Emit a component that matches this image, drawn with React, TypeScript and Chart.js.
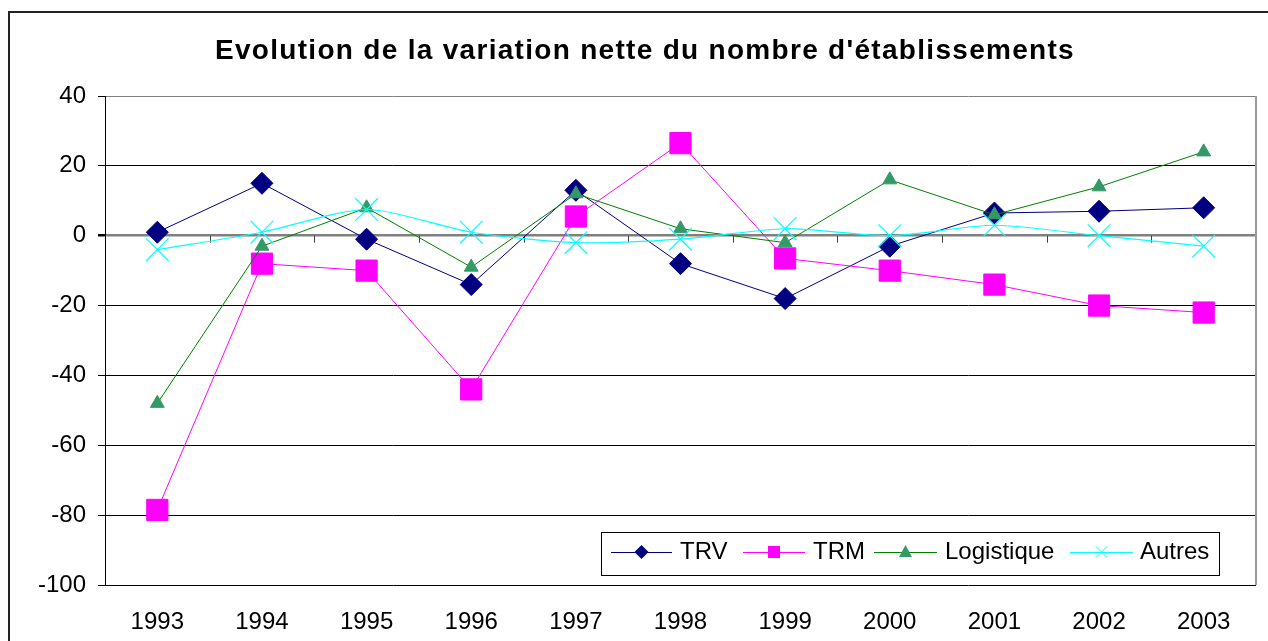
import React, { useEffect, useRef } from 'react';
import { Chart, registerables } from 'chart.js';

Chart.register(...registerables);

const chartTitle = "Evolution de la variation nette du nombre d'établissements";
const years = ['1993', '1994', '1995', '1996', '1997', '1998', '1999', '2000', '2001', '2002', '2003'];
const seriesNames = ['TRV', 'TRM', 'Logistique', 'Autres'];
const trv = [1, 15, -1, -14, 13, -8, -18, -3, 6.5, 7, 8];
const trm = [-78.5, -8, -10, -44, 5.5, 26.5, -6.5, -10, -14, -20, -22];
const logistique = [-48, -3, 8, -9, 12, 2, -2, 16, 6, 14, 24];
const autres = [-4, 1, 7.5, 1, -2, -1, 2, 0, 3, 0, -3];
const yMin = -100;
const yMax = 40;
const yStep = 20;

const FONT = '"Liberation Sans", Arial, sans-serif';
const NAVY = '#000080';
const MAGENTA = '#FF00FF';
const GREEN_FILL = '#339966';
const GREEN_LINE = '#008000';
const CYAN = '#00FFFF';

function drawMarker(ctx: CanvasRenderingContext2D, kind: string, x: number, y: number) {
  ctx.save();
  ctx.beginPath();
  if (kind === 'diamond') {
    const h = 7;
    ctx.moveTo(x, y - h);
    ctx.lineTo(x + h, y);
    ctx.lineTo(x, y + h);
    ctx.lineTo(x - h, y);
    ctx.closePath();
    ctx.fillStyle = NAVY;
    ctx.fill();
  } else if (kind === 'square') {
    ctx.fillStyle = MAGENTA;
    ctx.fillRect(x - 6, y - 6, 12, 12);
  } else if (kind === 'triangle') {
    ctx.moveTo(x, y - 7);
    ctx.lineTo(x + 6.5, y + 5);
    ctx.lineTo(x - 6.5, y + 5);
    ctx.closePath();
    ctx.fillStyle = GREEN_FILL;
    ctx.fill();
  } else {
    const h = 6;
    ctx.moveTo(x - h, y - h);
    ctx.lineTo(x + h, y + h);
    ctx.moveTo(x + h, y - h);
    ctx.lineTo(x - h, y + h);
    ctx.strokeStyle = CYAN;
    ctx.lineWidth = 1;
    ctx.stroke();
  }
  ctx.restore();
}

const decorPlugin = {
  id: 'decor',
  beforeDraw(chart: any) {
    const ctx: CanvasRenderingContext2D = chart.ctx;
    ctx.save();
    ctx.fillStyle = '#ffffff';
    ctx.fillRect(0, 0, chart.width, chart.height);
    ctx.strokeStyle = '#222222';
    ctx.lineWidth = 2;
    ctx.strokeRect(9, 12, 1400, 900);
    ctx.fillStyle = '#000';
    ctx.font = 'bold 28px ' + FONT;
    (ctx as any).letterSpacing = '1.3px';
    ctx.textAlign = 'center';
    ctx.textBaseline = 'middle';
    ctx.fillText(chartTitle, 645, 51);
    (ctx as any).letterSpacing = '0px';
    ctx.restore();
  },
  beforeDatasetsDraw(chart: any) {
    const ctx: CanvasRenderingContext2D = chart.ctx;
    const area = chart.chartArea;
    const y0 = chart.scales.y.getPixelForValue(0);
    const n = years.length;
    const step = (area.right - area.left) / n;
    ctx.save();
    ctx.strokeStyle = '#404040';
    ctx.lineWidth = 1;
    ctx.beginPath();
    for (let i = 1; i < n; i++) {
      const x = Math.round(area.left + i * step) + 0.5;
      ctx.moveTo(x, y0);
      ctx.lineTo(x, y0 + 7);
    }
    ctx.stroke();
    ctx.strokeStyle = '#9a9a9a';
    ctx.lineWidth = 2;
    ctx.beginPath();
    ctx.moveTo(area.right, area.top);
    ctx.lineTo(area.right, area.bottom);
    ctx.stroke();
    ctx.restore();
  },
  afterDraw(chart: any) {
    const ctx: CanvasRenderingContext2D = chart.ctx;
    ctx.save();
    const bx = 601, by = 532, bw = 618, bh = 43;
    ctx.fillStyle = '#ffffff';
    ctx.fillRect(bx, by, bw, bh);
    ctx.strokeStyle = '#000';
    ctx.lineWidth = 1;
    ctx.strokeRect(bx + 0.5, by + 0.5, bw, bh);
    const cy = 552;
    const items = [
      { kind: 'diamond', color: NAVY, x1: 611, x2: 672, tx: 680 },
      { kind: 'square', color: MAGENTA, x1: 743, x2: 805, tx: 813 },
      { kind: 'triangle', color: GREEN_LINE, x1: 874, x2: 937, tx: 945 },
      { kind: 'cross', color: CYAN, x1: 1070, x2: 1133, tx: 1140 },
    ];
    ctx.font = '24px ' + FONT;
    ctx.textAlign = 'left';
    ctx.textBaseline = 'middle';
    items.forEach((it, i) => {
      ctx.strokeStyle = it.color;
      ctx.lineWidth = 1;
      ctx.beginPath();
      ctx.moveTo(it.x1, cy + 0.5);
      ctx.lineTo(it.x2, cy + 0.5);
      ctx.stroke();
      drawMarker(ctx, it.kind, (it.x1 + it.x2) / 2, cy);
      ctx.fillStyle = '#000';
      ctx.fillText(seriesNames[i], it.tx, cy);
    });
    ctx.restore();
  },
};

export default function App() {
  const ref = useRef<HTMLCanvasElement | null>(null);
  useEffect(() => {
    if (!ref.current) return;
    const chart = new Chart(ref.current, {
      type: 'line',
      data: {
        labels: years,
        datasets: [
          {
            label: seriesNames[0],
            data: trv,
            borderColor: NAVY,
            backgroundColor: NAVY,
            borderWidth: 1,
            pointStyle: 'rectRot',
            pointRadius: 11,
            pointBorderWidth: 1,
            pointBorderColor: NAVY,
            pointBackgroundColor: NAVY,
            order: 3,
          },
          {
            label: seriesNames[1],
            data: trm,
            borderColor: MAGENTA,
            backgroundColor: MAGENTA,
            borderWidth: 1,
            pointStyle: 'rect',
            pointRadius: 15,
            pointBorderWidth: 1,
            pointBorderColor: MAGENTA,
            pointBackgroundColor: MAGENTA,
            order: 2,
          },
          {
            label: seriesNames[2],
            data: logistique,
            borderColor: GREEN_LINE,
            backgroundColor: GREEN_FILL,
            borderWidth: 1,
            pointStyle: 'triangle',
            pointRadius: 8,
            pointBorderWidth: 1,
            pointBorderColor: GREEN_FILL,
            pointBackgroundColor: GREEN_FILL,
            order: 1,
          },
          {
            label: seriesNames[3],
            data: autres,
            borderColor: CYAN,
            backgroundColor: CYAN,
            borderWidth: 1.2,
            tension: 0.25,
            pointStyle: 'crossRot',
            pointRadius: 16,
            pointBorderWidth: 1.2,
            pointBorderColor: CYAN,
            pointBackgroundColor: CYAN,
            order: 0,
          },
        ],
      },
      options: {
        animation: false,
        responsive: false,
        maintainAspectRatio: false,
        events: [],
        layout: { autoPadding: false, padding: { top: 96, right: 12, left: 0, bottom: 0 } },
        plugins: {
          legend: { display: false },
          title: { display: false },
          tooltip: { enabled: false },
        },
        scales: {
          x: {
            type: 'category',
            offset: true,
            grid: { display: false, drawTicks: false },
            border: { display: false },
            ticks: {
              color: '#000',
              font: { family: FONT, size: 24 },
              padding: 23,
              maxRotation: 0,
              autoSkip: false,
            },
            afterFit: (s: any) => {
              s.height = 56;
              s.paddingLeft = 0;
              s.paddingRight = 0;
            },
          },
          y: {
            min: yMin,
            max: yMax,
            grid: {
              color: (c: any) => (c.tick && (c.tick.value === 0 || c.tick.value === yMax) ? '#808080' : '#000000'),
              lineWidth: (c: any) => (c.tick && c.tick.value === 0 ? 2.5 : 1),
              tickColor: '#000000',
              tickLength: 7,
              drawTicks: true,
            },
            border: { display: true, color: '#000', width: 1 },
            ticks: {
              stepSize: yStep,
              color: '#000',
              font: { family: FONT, size: 24 },
              padding: 12,
            },
            afterFit: (s: any) => {
              s.width = 105;
              s.paddingTop = 0;
              s.paddingBottom = 0;
            },
          },
        },
      },
      plugins: [decorPlugin],
    } as any);
    return () => chart.destroy();
  }, []);
  return (
    <div style={{ position: 'absolute', left: 0, top: 0, width: 1268, height: 641, background: '#fff' }}>
      <canvas ref={ref} width={1268} height={641} style={{ display: 'block', width: 1268, height: 641 }} />
    </div>
  );
}
